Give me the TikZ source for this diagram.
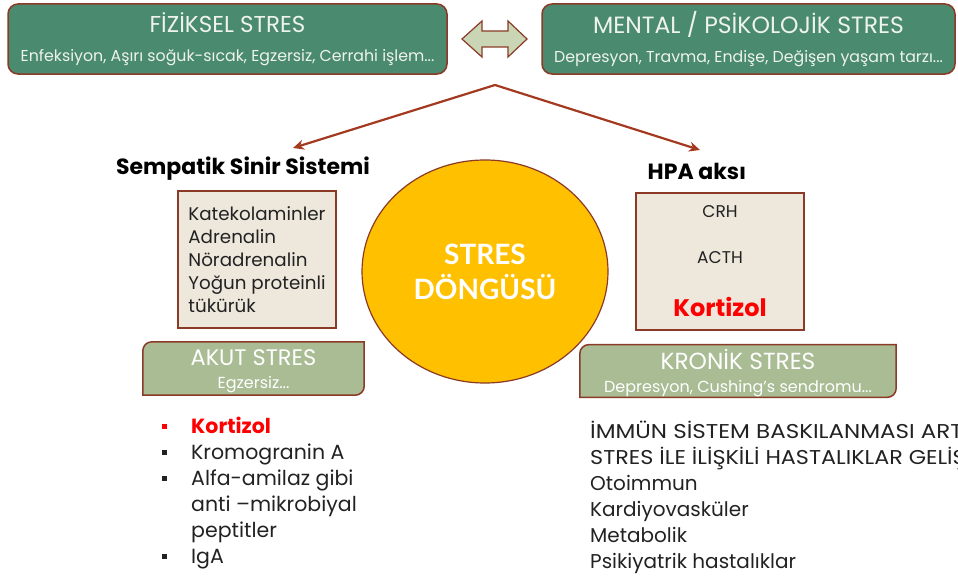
\documentclass[tikz,border=0pt]{standalone}
\usepackage{fontspec}
\setmainfont{Poppins}
\newfontfamily\cyclefont{Lato}
\usetikzlibrary{shapes.geometric,arrows.meta}
\definecolor{boxgreen}{HTML}{4A8A6E}
\definecolor{boxrim}{HTML}{8B3A26}
\definecolor{sagegreen}{HTML}{A9BC93}
\definecolor{paper}{HTML}{EDE7DC}
\definecolor{arrowred}{HTML}{A3391F}
\definecolor{amber}{HTML}{FFC000}
\definecolor{paletext}{HTML}{EEF3EE}
\definecolor{arrowfill}{HTML}{C9D5B4}
\definecolor{inktext}{HTML}{222222}
\newcommand{\setfs}[2]{\fontsize{#1pt}{#2pt}\selectfont}
\newcommand{\sqbullet}{\rule[4.5pt]{5pt}{5pt}}
\newcommand{\widecaps}[1]{\addfontfeature{FakeStretch=#1}}
\pgfdeclarelayer{back}
\pgfdeclarelayer{mid}
\pgfsetlayers{back,mid,main}
\tikzset{
  stressbox/.style={draw=boxrim, line width=1.5pt, fill=boxgreen, rounded corners=10pt,
    text=paletext, align=center, inner sep=0pt, font=\setfs{15.8}{29}},
  listbox/.style={draw=boxrim, line width=1.5pt, fill=paper, inner sep=0pt, text=inktext},
  phasebox/.style={text=white, align=center, inner sep=0pt, font=\setfs{16}{23}},
  phaseshape/.style={draw=boxrim, line width=1.5pt, fill=sagegreen},
  heading/.style={font=\bfseries\setfs{22}{24}, inner sep=0pt},
  flow/.style={draw=arrowred, line width=2.2pt, -{Stealth[length=11pt,width=10pt]}},
}
\begin{document}
\begin{tikzpicture}[x=1pt,y=-1pt]
\useasboundingbox (0,0) rectangle (958,578);
\clip (0,0) rectangle (958,578);

% sources of stress
\node[stressbox, minimum width=439pt, minimum height=70pt] (physical) at (227.5,39)
  {{\setfs{23}{29}FİZİKSEL STRES}\\{Enfeksiyon, Aşırı soğuk-sıcak, Egzersiz, Cerrahi işlem...}};
\node[stressbox, minimum width=413pt, minimum height=70pt] (mental) at (748.5,39)
  {{\setfs{23.5}{29}MENTAL / PSİKOLOJİK STRES}\\{Depresyon, Travma, Endişe, Değişen yaşam tarzı...}};
\draw[draw=boxrim, fill=arrowfill, line width=1.2pt]
  (462,39) -- (482,21) -- (482,31) -- (508,31) -- (508,21) -- (527,39)
  -- (508,57) -- (508,47) -- (482,47) -- (482,57) -- cycle;

% split into the two axes
\coordinate (split) at (495,85);
\coordinate (snstip) at (293,148);
\coordinate (hpatip) at (700,150);
\draw[flow] (split) -- (snstip);
\draw[flow] (split) -- (hpatip);

\node[heading] (sns) at (243,169) {Sempatik Sinir Sistemi};
\node[heading] (hpa) at (697,171) {HPA aksı};

% the cycle in the middle
\begin{pgfonlayer}{back}
\node[ellipse, draw=boxrim, line width=1.2pt, fill=amber, minimum width=246pt, minimum height=223pt,
  inner sep=0pt, text=white, align=center, font=\cyclefont\bfseries\setfs{28}{35}] (cycle) at (485,271.5)
  {STRES\\DÖNGÜSÜ};
\end{pgfonlayer}

% hormone boxes
\node[listbox, minimum width=158pt, minimum height=137pt, align=left,
  font=\setfs{18.3}{23}] (sympbox) at (257,259.5)
  {Katekolaminler\\Adrenalin\\Nöradrenalin\\Yoğun proteinli\\tükürük};
\node[listbox, minimum width=168pt, minimum height=137pt, align=center,
  font=\setfs{17}{46}] (hpabox) at (720,261.5)
  {CRH\\ACTH\\[7pt]{\color{red}\bfseries\setfs{24}{50}Kortizol}};

% acute and chronic
\node[phasebox, minimum width=221pt, minimum height=53pt] (acute) at (253.5,368.5)
  {{\setfs{22.5}{23}\rule{0pt}{22pt}AKUT STRES}\\Egzersiz...};
\node[phasebox, minimum width=316pt, minimum height=52pt] (chronic) at (738,371)
  {{\setfs{23.3}{23}\rule{0pt}{25pt}KRONİK STRES}\\{\setfs{16}{23}Depresyon, Cushing’s sendromu...}};
\begin{pgfonlayer}{mid}
\draw[phaseshape] (acute.south west) [rounded corners=9pt] -- (acute.north west) [sharp corners]
  -- (acute.north east) [rounded corners=9pt] -- (acute.south east) [sharp corners] -- cycle;
\draw[phaseshape] (chronic.south west) [rounded corners=9pt] -- (chronic.north west) [sharp corners]
  -- (chronic.north east) [rounded corners=9pt] -- (chronic.south east) [sharp corners] -- cycle;
\end{pgfonlayer}

% outcomes
\node[anchor=north west, inner sep=0pt, text=inktext, font=\setfs{20.5}{26}] (acutelist) at (162,415)
  {\begin{tabular}{@{}l@{\hspace{24pt}}l@{}}
   {\color{red}\sqbullet} & {\color{red}\bfseries Kortizol}\\
   \sqbullet & Kromogranin A\\
   \sqbullet & Alfa-amilaz gibi\\
             & anti –mikrobiyal\\
             & peptitler\\
   \sqbullet & IgA
   \end{tabular}};
\node[anchor=north west, inner sep=0pt, align=left, text=inktext, font=\setfs{20}{26}] (chroniclist) at (590,421)
  {{\widecaps{1.15}İMMÜN SİSTEM BASKILANMASI ARTAR}\\{\widecaps{1.115}STRES İLE İLİŞKİLİ HASTALIKLAR GELİŞİR}\\Otoimmun\\Kardiyovasküler\\Metabolik\\Psikiyatrik hastalıklar};
\end{tikzpicture}
\end{document}
